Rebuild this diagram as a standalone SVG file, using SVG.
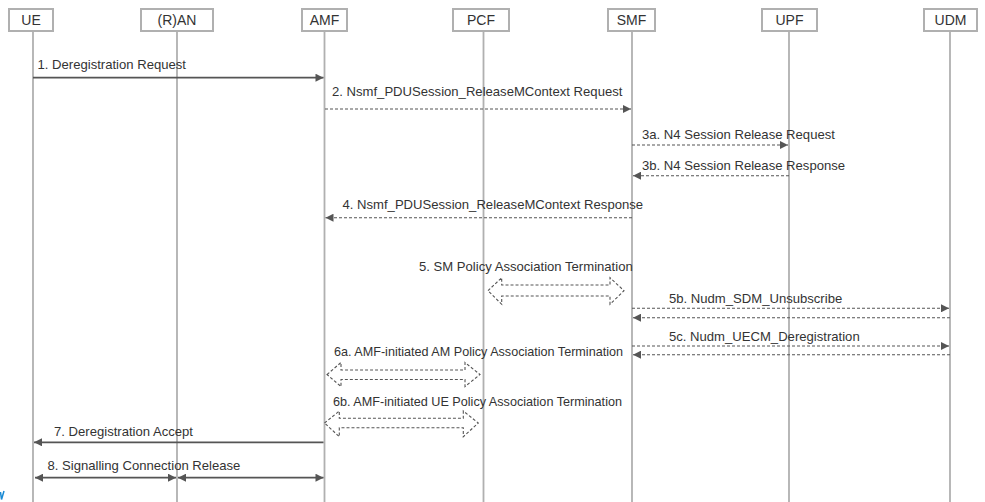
<svg xmlns="http://www.w3.org/2000/svg" width="985" height="502" viewBox="0 0 985 502">
<style>
.box{fill:#fff;stroke:#b0b0b0;stroke-width:2}
.life{stroke:#b0b0b0;stroke-width:1.8;fill:none}
.lbl{font-family:"Liberation Sans",Arial,sans-serif;font-size:13.1px;fill:#333}
.hd{font-family:"Liberation Sans",Arial,sans-serif;font-size:14px;fill:#333;text-anchor:middle}
.sol{stroke:#555;stroke-width:1.8;fill:none}
.dsh{stroke:#555;stroke-width:1.1;stroke-dasharray:3,2;fill:none}
.blk{fill:#fff;stroke:#555;stroke-width:1.1;stroke-dasharray:3,2}
</style>
<defs>
<marker id="ah" viewBox="0 0 10 10" refX="10" refY="5" markerWidth="10" markerHeight="8" markerUnits="userSpaceOnUse" orient="auto-start-reverse">
<path d="M0,0 L10,5 L0,10 z" fill="#555"/>
</marker>
</defs>
<g id="UE"><rect class="box" x="9" y="9" width="44" height="22"/><text class="hd" x="31" y="25">UE</text><line class="life" x1="33" y1="31" x2="33" y2="502"/></g>
<g id="RAN"><rect class="box" x="141" y="9" width="72" height="22"/><text class="hd" x="177" y="25">(R)AN</text><line class="life" x1="177" y1="31" x2="177" y2="502"/></g>
<g id="AMF"><rect class="box" x="302" y="9" width="45" height="22"/><text class="hd" x="324.5" y="25">AMF</text><line class="life" x1="324.5" y1="31" x2="324.5" y2="502"/></g>
<g id="PCF"><rect class="box" x="453" y="9" width="56" height="22"/><text class="hd" x="481" y="25">PCF</text><line class="life" x1="483.5" y1="31" x2="483.5" y2="502"/></g>
<g id="SMF"><rect class="box" x="608" y="9" width="47" height="22"/><text class="hd" x="631.5" y="25">SMF</text><line class="life" x1="632" y1="31" x2="632" y2="502"/></g>
<g id="UPF"><rect class="box" x="762" y="9" width="55" height="22"/><text class="hd" x="789.5" y="25">UPF</text><line class="life" x1="789" y1="31" x2="789" y2="502"/></g>
<g id="UDM"><rect class="box" x="924" y="9" width="53" height="22"/><text class="hd" x="950.5" y="25">UDM</text><line class="life" x1="950" y1="31" x2="950" y2="502"/></g>
<g id="connectors">
<line class="sol" x1="33" y1="77.7" x2="323.5" y2="77.7" marker-end="url(#ah)"/>
<line class="dsh" x1="325" y1="109" x2="631" y2="109" marker-end="url(#ah)"/>
<line class="dsh" x1="632" y1="145" x2="788" y2="145" marker-end="url(#ah)"/>
<line class="dsh" x1="789" y1="175.7" x2="633" y2="175.7" marker-end="url(#ah)"/>
<line class="dsh" x1="632" y1="217.7" x2="325.5" y2="217.7" marker-end="url(#ah)"/>
<path class="blk" d="M488,290.7 L501.7,277.7 L501.7,285 L610,285 L610,277.7 L624,290.7 L610,304.3 L610,296 L501.7,296 L501.7,304.3 Z"/>
<line class="dsh" x1="632" y1="308.3" x2="949" y2="308.3" marker-end="url(#ah)"/>
<line class="dsh" x1="950" y1="317.7" x2="633" y2="317.7" marker-end="url(#ah)"/>
<line class="dsh" x1="632" y1="346" x2="949" y2="346" marker-end="url(#ah)"/>
<line class="dsh" x1="950" y1="354.7" x2="633" y2="354.7" marker-end="url(#ah)"/>
<path class="blk" d="M327,374.5 L341,362.5 L341,370 L465,370 L465,362.5 L480,374.5 L465,386.5 L465,379.5 L341,379.5 L341,386.5 Z"/>
<path class="blk" d="M324.5,423 L339.3,411 L339.3,418.3 L463.3,418.3 L463.3,411 L478.3,423 L463.3,436.7 L463.3,427.7 L339.3,427.7 L339.3,436.7 Z"/>
<line class="sol" x1="323.5" y1="442.3" x2="34" y2="442.3" marker-end="url(#ah)"/>
<line class="sol" x1="35" y1="477.7" x2="176" y2="477.7" marker-start="url(#ah)" marker-end="url(#ah)"/>
<line class="sol" x1="178" y1="477.7" x2="323.5" y2="477.7" marker-start="url(#ah)" marker-end="url(#ah)"/>
</g>
<g id="labels">
<text class="lbl" x="37.5" y="68.5">1. Deregistration Request</text>
<text class="lbl" x="332" y="96">2. Nsmf_PDUSession_ReleaseMContext Request</text>
<text class="lbl" x="642" y="138.5">3a. N4 Session Release Request</text>
<text class="lbl" x="642" y="170">3b. N4 Session Release Response</text>
<text class="lbl" x="342.5" y="208.5">4. Nsmf_PDUSession_ReleaseMContext Response</text>
<text class="lbl" x="419" y="270.5">5. SM Policy Association Termination</text>
<text class="lbl" x="669" y="302.5">5b. Nudm_SDM_Unsubscribe</text>
<text class="lbl" x="669" y="340.5">5c. Nudm_UECM_Deregistration</text>
<text class="lbl" x="334" y="356" textLength="289" lengthAdjust="spacingAndGlyphs">6a. AMF-initiated AM Policy Association Termination</text>
<text class="lbl" x="333" y="406" textLength="289" lengthAdjust="spacingAndGlyphs">6b. AMF-initiated UE Policy Association Termination</text>
<text class="lbl" x="54" y="436">7. Deregistration Accept</text>
<text class="lbl" x="47.5" y="469.5">8. Signalling Connection Release</text>
</g>
<path d="M0.5,492 L1.5,499.5 L4,491" stroke="#1a8ad4" stroke-width="1.5" fill="none"/>
</svg>
